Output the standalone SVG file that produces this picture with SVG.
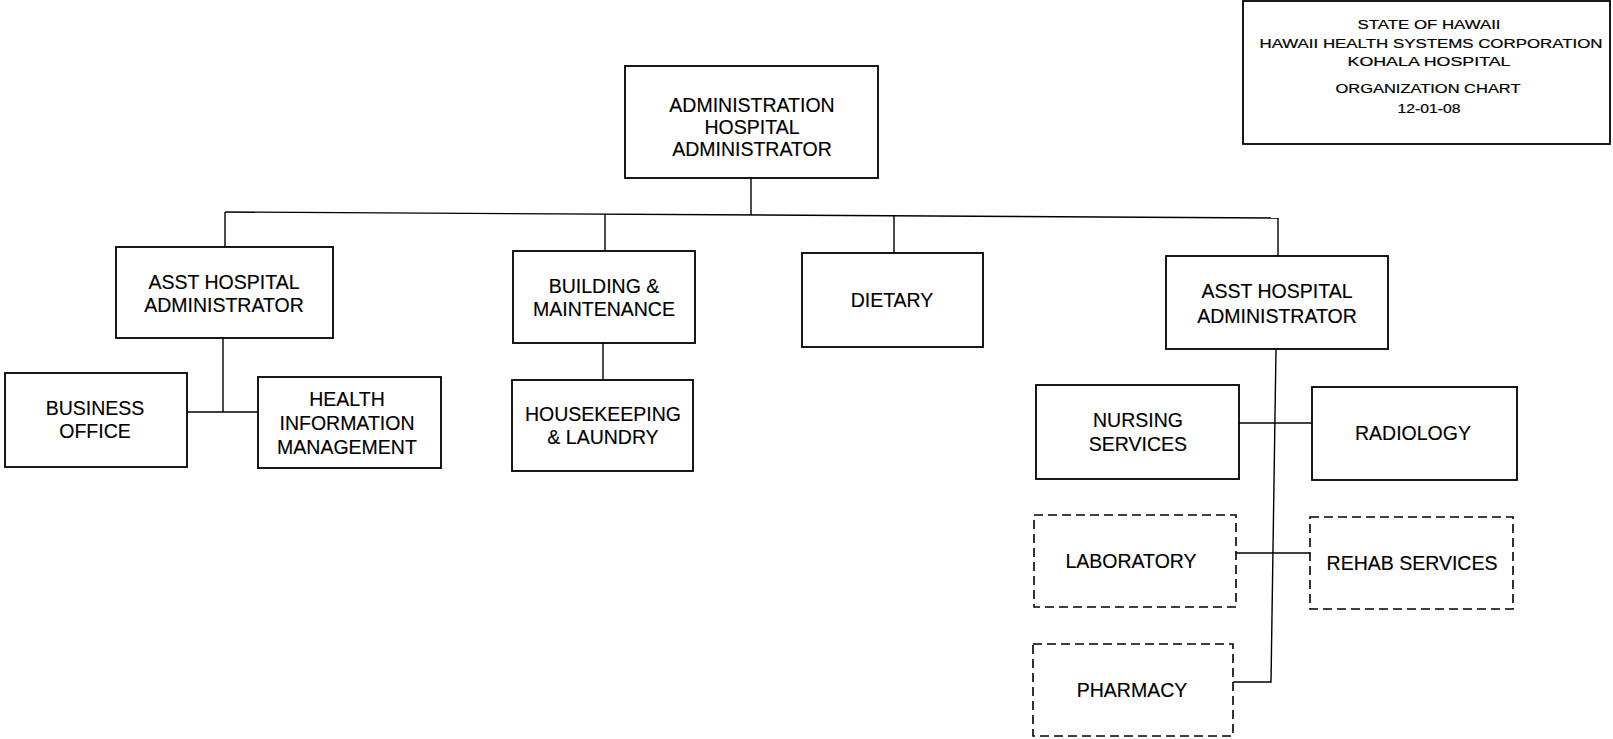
<svg xmlns="http://www.w3.org/2000/svg" width="1613" height="739" viewBox="0 0 1613 739">
<style>
.box{fill:#fff;stroke:#000;stroke-width:1.8}
.dash{fill:#fff;stroke:#000;stroke-width:1.6;stroke-dasharray:9 5}
.t{font-family:"Liberation Sans",Arial,sans-serif;font-size:19.5px;fill:#000;text-anchor:middle;stroke:#000;stroke-width:0.15}
.s{font-family:"Liberation Sans",Arial,sans-serif;font-size:12.5px;fill:#000;text-anchor:middle;stroke:#000;stroke-width:0.2}
.c{fill:none;stroke:#000;stroke-width:1.4}
</style>
<rect width="1613" height="739" fill="#fff"/>
<g id="connectors">
<path class="c" d="M751 178 L751 215"/>
<path class="c" d="M225 212 L1278 218"/>
<path class="c" d="M225 212 L225 247"/>
<path class="c" d="M605 214 L605 251"/>
<path class="c" d="M894 216 L894 253"/>
<path class="c" d="M1278 218 L1278 256"/>
<path class="c" d="M223 338 L223 412"/>
<path class="c" d="M187 412 L258 412"/>
<path class="c" d="M603 343 L603 380"/>
<path class="c" d="M1276 349 L1271 682 L1233 682"/>
<path class="c" d="M1239 423 L1312 423"/>
<path class="c" d="M1236 553 L1310 553"/>
</g>
<g id="title">
<rect class="box" x="1243" y="1" width="367" height="143"/>
<text class="s" x="1429" y="29" textLength="143" lengthAdjust="spacingAndGlyphs">STATE OF HAWAII</text>
<text class="s" x="1431" y="48" textLength="343" lengthAdjust="spacingAndGlyphs">HAWAII HEALTH SYSTEMS CORPORATION</text>
<text class="s" x="1429" y="66" textLength="163" lengthAdjust="spacingAndGlyphs">KOHALA HOSPITAL</text>
<text class="s" x="1428" y="93" textLength="185" lengthAdjust="spacingAndGlyphs">ORGANIZATION CHART</text>
<text class="s" x="1429" y="113" textLength="63" lengthAdjust="spacingAndGlyphs">12-01-08</text>
</g>
<g id="admin">
<rect class="box" x="625" y="66" width="253" height="112"/>
<text class="t" x="752" y="112">ADMINISTRATION</text>
<text class="t" x="752" y="134">HOSPITAL</text>
<text class="t" x="752" y="156">ADMINISTRATOR</text>
</g>
<g id="asst-left">
<rect class="box" x="116" y="247" width="217" height="91"/>
<text class="t" x="224" y="289">ASST HOSPITAL</text>
<text class="t" x="224" y="312">ADMINISTRATOR</text>
</g>
<g id="business">
<rect class="box" x="5" y="373" width="182" height="94"/>
<text class="t" x="95" y="415">BUSINESS</text>
<text class="t" x="95" y="438">OFFICE</text>
</g>
<g id="him">
<rect class="box" x="258" y="377" width="183" height="91"/>
<text class="t" x="347" y="406">HEALTH</text>
<text class="t" x="347" y="430">INFORMATION</text>
<text class="t" x="347" y="454">MANAGEMENT</text>
</g>
<g id="building">
<rect class="box" x="513" y="251" width="182" height="92"/>
<text class="t" x="604" y="293">BUILDING &amp;</text>
<text class="t" x="604" y="316">MAINTENANCE</text>
</g>
<g id="housekeeping">
<rect class="box" x="512" y="380" width="181" height="91"/>
<text class="t" x="603" y="421">HOUSEKEEPING</text>
<text class="t" x="603" y="444">&amp; LAUNDRY</text>
</g>
<g id="dietary">
<rect class="box" x="802" y="253" width="181" height="94"/>
<text class="t" x="892" y="307">DIETARY</text>
</g>
<g id="asst-right">
<rect class="box" x="1166" y="256" width="222" height="93"/>
<text class="t" x="1277" y="298">ASST HOSPITAL</text>
<text class="t" x="1277" y="323">ADMINISTRATOR</text>
</g>
<g id="nursing">
<rect class="box" x="1036" y="385" width="203" height="94"/>
<text class="t" x="1138" y="427">NURSING</text>
<text class="t" x="1138" y="451">SERVICES</text>
</g>
<g id="radiology">
<rect class="box" x="1312" y="387" width="205" height="93"/>
<text class="t" x="1413" y="440">RADIOLOGY</text>
</g>
<g id="laboratory">
<rect class="dash" x="1034" y="515" width="202" height="92"/>
<text class="t" x="1131" y="568">LABORATORY</text>
</g>
<g id="rehab">
<rect class="dash" x="1310" y="517" width="203" height="92"/>
<text class="t" x="1412" y="570">REHAB SERVICES</text>
</g>
<g id="pharmacy">
<rect class="dash" x="1033" y="644" width="200" height="92"/>
<text class="t" x="1132" y="697">PHARMACY</text>
</g>
</svg>
